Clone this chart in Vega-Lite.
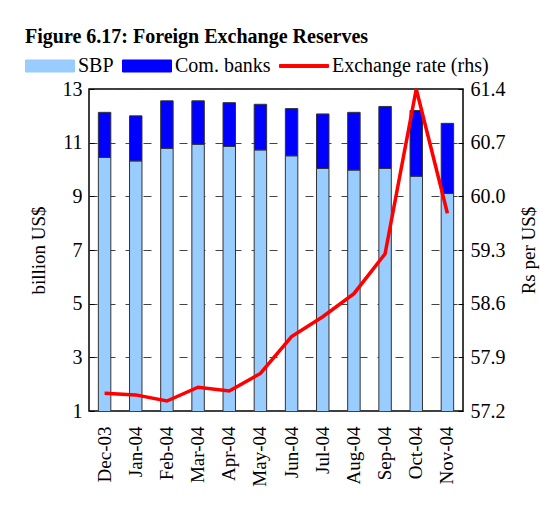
{
  "$schema": "https://vega.github.io/schema/vega-lite/v6.json",
  "width": 374,
  "height": 322,
  "autosize": {"type": "none"},
  "padding": {"left": 89, "top": 89, "right": 77, "bottom": 95},
  "background": "white",
  "title": {
    "text": "Figure 6.17: Foreign Exchange Reserves",
    "anchor": "start",
    "frame": "group",
    "dx": -64,
    "offset": -6,
    "font": "Liberation Serif",
    "fontSize": 20,
    "fontWeight": "bold",
    "color": "black"
  },
  "config": {
    "view": {"stroke": "black", "strokeWidth": 1.5},
    "font": "Liberation Serif",
    "axis": {
      "labelFont": "Liberation Serif",
      "titleFont": "Liberation Serif",
      "labelColor": "black",
      "titleColor": "black",
      "titleFontWeight": "normal",
      "domain": false
    }
  },
  "datasets": {
    "reserves": [
      {"month": "Dec-03", "series": "SBP", "value": 10.45},
      {"month": "Jan-04", "series": "SBP", "value": 10.32},
      {"month": "Feb-04", "series": "SBP", "value": 10.79},
      {"month": "Mar-04", "series": "SBP", "value": 10.94},
      {"month": "Apr-04", "series": "SBP", "value": 10.86},
      {"month": "May-04", "series": "SBP", "value": 10.73},
      {"month": "Jun-04", "series": "SBP", "value": 10.51},
      {"month": "Jul-04", "series": "SBP", "value": 10.04},
      {"month": "Aug-04", "series": "SBP", "value": 9.98},
      {"month": "Sep-04", "series": "SBP", "value": 10.04},
      {"month": "Oct-04", "series": "SBP", "value": 9.75},
      {"month": "Nov-04", "series": "SBP", "value": 9.11},
      {"month": "Dec-03", "series": "Com. banks", "value": 1.68},
      {"month": "Jan-04", "series": "Com. banks", "value": 1.68},
      {"month": "Feb-04", "series": "Com. banks", "value": 1.77},
      {"month": "Mar-04", "series": "Com. banks", "value": 1.62},
      {"month": "Apr-04", "series": "Com. banks", "value": 1.63},
      {"month": "May-04", "series": "Com. banks", "value": 1.70},
      {"month": "Jun-04", "series": "Com. banks", "value": 1.76},
      {"month": "Jul-04", "series": "Com. banks", "value": 2.03},
      {"month": "Aug-04", "series": "Com. banks", "value": 2.15},
      {"month": "Sep-04", "series": "Com. banks", "value": 2.31},
      {"month": "Oct-04", "series": "Com. banks", "value": 2.45},
      {"month": "Nov-04", "series": "Com. banks", "value": 2.61}
    ],
    "rate": [
      {"month": "Dec-03", "series": "Exchange rate (rhs)", "rate": 57.43},
      {"month": "Jan-04", "series": "Exchange rate (rhs)", "rate": 57.41},
      {"month": "Feb-04", "series": "Exchange rate (rhs)", "rate": 57.33},
      {"month": "Mar-04", "series": "Exchange rate (rhs)", "rate": 57.51},
      {"month": "Apr-04", "series": "Exchange rate (rhs)", "rate": 57.46},
      {"month": "May-04", "series": "Exchange rate (rhs)", "rate": 57.69},
      {"month": "Jun-04", "series": "Exchange rate (rhs)", "rate": 58.17},
      {"month": "Jul-04", "series": "Exchange rate (rhs)", "rate": 58.43},
      {"month": "Aug-04", "series": "Exchange rate (rhs)", "rate": 58.73},
      {"month": "Sep-04", "series": "Exchange rate (rhs)", "rate": 59.25},
      {"month": "Oct-04", "series": "Exchange rate (rhs)", "rate": 61.4},
      {"month": "Nov-04", "series": "Exchange rate (rhs)", "rate": 59.78}
    ]
  },
  "layer": [
    {
      "data": {"name": "reserves"},
      "mark": {"type": "bar", "stroke": "#333", "strokeWidth": 1, "clip": true},
      "encoding": {
        "x": {
          "field": "month",
          "type": "nominal",
          "sort": ["Dec-03", "Jan-04", "Feb-04", "Mar-04", "Apr-04", "May-04", "Jun-04", "Jul-04", "Aug-04", "Sep-04", "Oct-04", "Nov-04"],
          "scale": {"paddingInner": 0.6, "paddingOuter": 0.3},
          "axis": {
            "title": null,
            "labelAngle": -90,
            "labelAlign": "right",
            "labelBaseline": "middle",
            "labelFontSize": 19,
            "labelPadding": 15,
            "ticks": false
          }
        },
        "y": {
          "field": "value",
          "type": "quantitative",
          "stack": "zero",
          "scale": {"domain": [1, 13], "zero": false, "nice": false},
          "axis": {
            "title": "billion US$",
            "titleFontSize": 19,
            "titlePadding": 14,
            "values": [1, 3, 5, 7, 9, 11, 13],
            "labelFontSize": 20,
            "labelPadding": 12,
            "tickSize": -5,
            "tickColor": "black",
            "grid": true,
            "gridColor": "#444",
            "gridDash": [8, 10],
            "gridWidth": 1
          }
        },
        "order": {"field": "series", "sort": "descending"},
        "color": {
          "field": "series",
          "type": "nominal",
          "scale": {
            "domain": ["SBP", "Com. banks", "Exchange rate (rhs)"],
            "range": ["#99CCFF", "#0000FF", "#FF0000"]
          },
          "legend": {
            "title": null,
            "orient": "none",
            "legendX": -64,
            "legendY": -48,
            "direction": "horizontal",
            "labelFont": "Liberation Serif",
            "labelFontSize": 20,
            "labelColor": "black",
            "labelOffset": 3,
            "columnPadding": 6,
            "symbolType": "M-1,-0.245H1V0.245H-1Z",
            "symbolSize": 2401,
            "symbolStrokeWidth": 1,
            "symbolStrokeColor": "#222",
            "encode": {
              "symbols": {
                "update": {
                  "shape": {"signal": "datum.value === 'Exchange rate (rhs)' ? 'M-1,-0.06H1V0.06H-1Z' : 'M-1,-0.245H1V0.245H-1Z'"},
                  "stroke": {"signal": "datum.value === 'Exchange rate (rhs)' ? '#FF0000' : (datum.value === 'SBP' ? '#444' : '#000')"}
                }
              }
            }
          }
        }
      }
    },
    {
      "data": {"name": "rate"},
      "mark": {"type": "line", "strokeWidth": 3.5},
      "encoding": {
        "x": {
          "field": "month",
          "type": "nominal",
          "sort": ["Dec-03", "Jan-04", "Feb-04", "Mar-04", "Apr-04", "May-04", "Jun-04", "Jul-04", "Aug-04", "Sep-04", "Oct-04", "Nov-04"]
        },
        "y": {
          "field": "rate",
          "type": "quantitative",
          "scale": {"domain": [57.2, 61.4], "zero": false, "nice": false},
          "axis": {
            "title": "Rs per US$",
            "orient": "right",
            "titleAngle": -90,
            "titleFontSize": 19,
            "titlePadding": 14,
            "titleBaseline": "top",
            "values": [57.2, 57.9, 58.6, 59.3, 60.0, 60.7, 61.4],
            "format": ".1f",
            "labelFontSize": 20,
            "labelPadding": 12,
            "tickSize": -5,
            "tickColor": "black",
            "grid": false
          }
        },
        "color": {"field": "series", "type": "nominal"}
      }
    }
  ],
  "resolve": {"scale": {"y": "independent"}}
}
